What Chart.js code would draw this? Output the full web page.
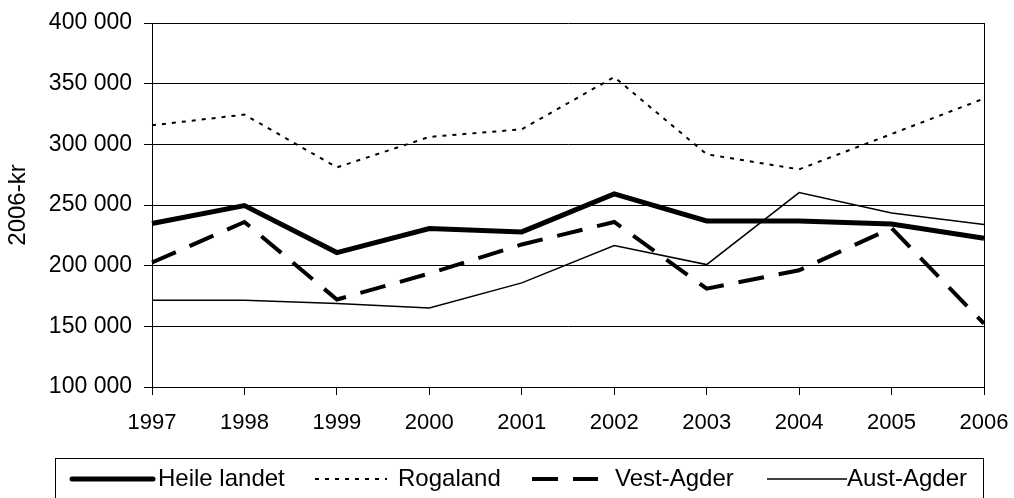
<!DOCTYPE html>
<html>
<head>
<meta charset="utf-8">
<script src="https://cdn.jsdelivr.net/npm/chart.js@4.4.1/dist/chart.umd.min.js"></script>
<style>
  html, body { margin: 0; padding: 0; background: #fff; }
  #wrap { width: 1014px; height: 498px; position: relative; }
</style>
</head>
<body>
<div id="wrap"><canvas id="incomeChart"></canvas></div>
<script>
const years = ['1997', '1998', '1999', '2000', '2001', '2002', '2003', '2004', '2005', '2006'];
const heileLandet = [234700, 249500, 210800, 230600, 227800, 259100, 236800, 236800, 234400, 222600];
const rogaland = [315700, 324500, 281000, 306100, 312400, 355500, 291800, 279400, 308500, 337700];
const vestAgder = [202600, 236000, 172100, 193500, 217500, 236000, 181100, 196200, 231000, 152300];
const austAgder = [171500, 171500, 168800, 165200, 185800, 216600, 200900, 260200, 243400, 233900];
const yTicks = [100000, 150000, 200000, 250000, 300000, 350000, 400000];

const FONT = "'Liberation Sans', Arial, sans-serif";

// legend drawn by hand so it sits in the framed box like the original
const boxedLegend = {
  id: 'boxedLegend',
  afterDraw(chart) {
    const ctx = chart.ctx;
    const slots = [
      { x0: 72, x1: 153, tx: 158 },
      { x0: 315, x1: 387, tx: 398 },
      { x0: 532, x1: 598, tx: 615 },
      { x0: 767, x1: 847, tx: 847 }
    ];
    const y = 479;
    ctx.save();
    ctx.strokeStyle = '#000';
    ctx.lineWidth = 1;
    ctx.strokeRect(55.5, 458.5, 928, 60);
    chart.data.datasets.forEach((ds, i) => {
      const s = slots[i];
      ctx.beginPath();
      ctx.lineWidth = ds.borderWidth;
      ctx.setLineDash(ds.borderDash || []);
      ctx.lineCap = ds.borderWidth >= 5 ? 'round' : 'butt';
      ctx.strokeStyle = ds.borderColor;
      ctx.moveTo(s.x0, y);
      ctx.lineTo(s.x1, y);
      ctx.stroke();
      ctx.setLineDash([]);
      ctx.fillStyle = '#000';
      ctx.font = '24px ' + FONT;
      ctx.textBaseline = 'middle';
      ctx.textAlign = 'left';
      ctx.fillText(ds.label, s.tx, y);
    });
    ctx.restore();
  }
};

const chart = new Chart(document.getElementById('incomeChart'), {
  type: 'line',
  data: {
    labels: years,
    datasets: [
      { label: 'Heile landet', data: heileLandet, borderColor: '#000', borderWidth: 5, borderJoinStyle: 'miter' },
      { label: 'Rogaland', data: rogaland, borderColor: '#000', borderWidth: 2, borderDash: [4, 6] },
      { label: 'Vest-Agder', data: vestAgder, borderColor: '#000', borderWidth: 4, borderDash: [26, 15] },
      { label: 'Aust-Agder', data: austAgder, borderColor: '#000', borderWidth: 1.5 }
    ]
  },
  options: {
    responsive: true,
    maintainAspectRatio: false,
    animation: false,
    elements: {
      point: { radius: 0, hoverRadius: 0 },
      line: { tension: 0, fill: false }
    },
    layout: { padding: { top: 23, right: 30, bottom: 63, left: 0 } },
    plugins: {
      legend: { display: false },
      tooltip: { enabled: false }
    },
    scales: {
      x: {
        offset: false,
        grid: {
          drawOnChartArea: true,
          color: (c) => (c.index === years.length - 1 ? '#000' : 'rgba(0,0,0,0)'),
          tickColor: '#000',
          tickLength: 8,
          lineWidth: 1
        },
        border: { display: true, color: '#000', width: 1 },
        ticks: {
          color: '#000',
          font: { family: FONT, size: 22 },
          padding: 15,
          maxRotation: 0,
          autoSkip: false
        },
        afterFit: (scale) => {
          scale.height = 48;
          scale.paddingLeft = 0;
          scale.paddingRight = 0;
        }
      },
      y: {
        min: 100000,
        max: 400000,
        afterBuildTicks: (scale) => { scale.ticks = yTicks.map(v => ({ value: v })); },
        grid: {
          color: '#000',
          tickColor: '#000',
          tickLength: 8,
          lineWidth: 1
        },
        border: { display: true, color: '#000', width: 1 },
        ticks: {
          color: '#000',
          font: { family: FONT, size: 23 },
          padding: 12,
          callback: (v) => String(v).replace(/\B(?=(\d{3})+(?!\d))/g, ' ')
        },
        title: {
          display: true,
          text: '2006-kr',
          color: '#000',
          font: { family: FONT, size: 24 },
          padding: { top: 4, bottom: 0 }
        },
        afterFit: (scale) => {
          scale.width = 152;
          scale.paddingTop = 0;
          scale.paddingBottom = 0;
        }
      }
    }
  },
  plugins: [boxedLegend]
});
</script>
</body>
</html>
